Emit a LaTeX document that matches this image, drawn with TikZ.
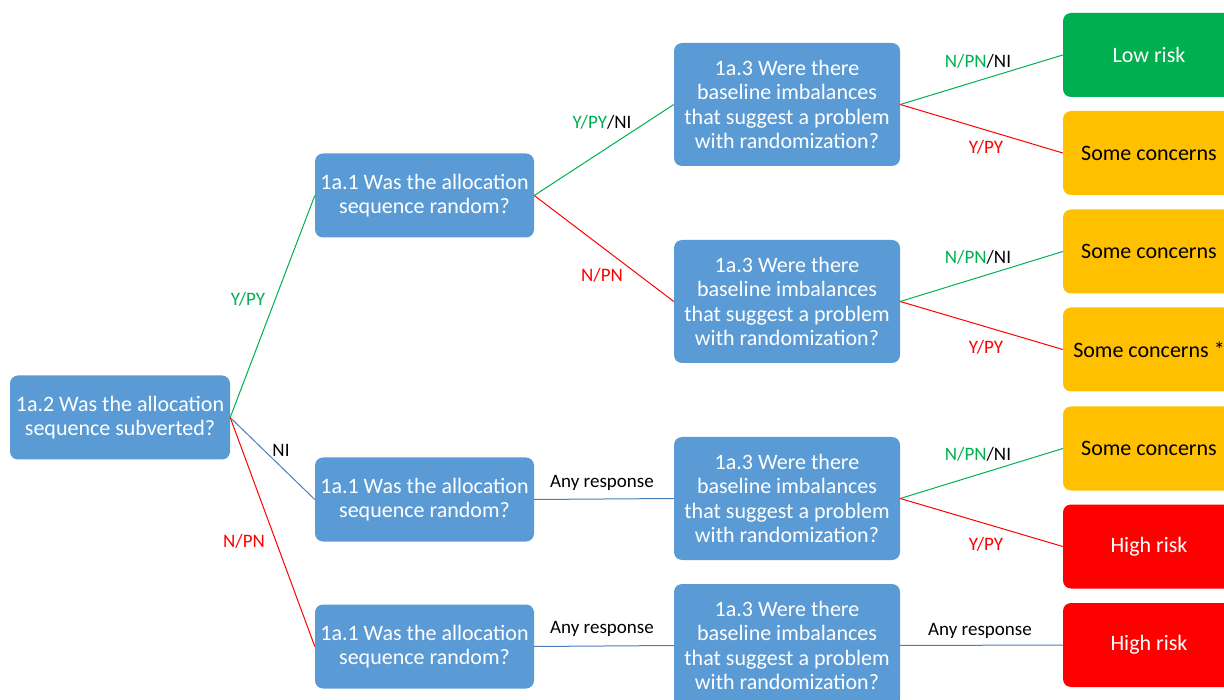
\documentclass[tikz,border=0pt]{standalone}
\usepackage{fontspec}
\setmainfont{Carlito}
\definecolor{boxblue}{HTML}{5B9BD5}
\definecolor{okgreen}{HTML}{00B050}
\definecolor{amber}{HTML}{FFC000}
\definecolor{hired}{HTML}{FF0000}
\definecolor{linkblue}{HTML}{4A7EBB}
\begin{document}
\begin{tikzpicture}[x=1pt,y=-1pt,
  qbox/.style={fill=boxblue, rounded corners=8pt, text=white, align=center,
    font=\fontsize{22}{24.3}\selectfont, inner sep=0pt},
  rbox/.style={rounded corners=8pt, align=center, minimum width=172pt,
    minimum height=84pt, font=\fontsize{22}{24.3}\selectfont, inner sep=0pt},
  lab/.style={font=\fontsize{19}{22}\selectfont, inner sep=0pt, yshift=-1.5pt},
  gline/.style={okgreen, line width=1pt},
  rline/.style={hired, line width=1pt},
  bline/.style={linkblue, line width=1pt}]
\useasboundingbox (0,0) rectangle (1224,700);

% question boxes
\node[qbox, minimum width=220pt, minimum height=84pt] (root) at (120,417.5)
  {1a.2 Was the allocation\\sequence subverted?};
\node[qbox, minimum width=219pt, minimum height=84pt] (a1) at (424.5,195.5)
  {1a.1 Was the allocation\\sequence random?};
\node[qbox, minimum width=219pt, minimum height=84pt] (a2) at (424.5,499.5)
  {1a.1 Was the allocation\\sequence random?};
\node[qbox, minimum width=219pt, minimum height=84pt] (a3) at (424.5,646.5)
  {1a.1 Was the allocation\\sequence random?};

\node[qbox, minimum width=226pt, minimum height=123pt] (b1) at (787,104.5)
  {1a.3 Were there\\baseline imbalances\\that suggest a problem\\with randomization?};
\node[qbox, minimum width=226pt, minimum height=123pt] (b2) at (787,301.5)
  {1a.3 Were there\\baseline imbalances\\that suggest a problem\\with randomization?};
\node[qbox, minimum width=226pt, minimum height=123pt] (b3) at (787,498.5)
  {1a.3 Were there\\baseline imbalances\\that suggest a problem\\with randomization?};
\node[qbox, minimum width=226pt, minimum height=123pt] (b4) at (787,645.5)
  {1a.3 Were there\\baseline imbalances\\that suggest a problem\\with randomization?};

% judgement boxes
\node[rbox, fill=okgreen, text=white] (r1) at (1149,55) {Low risk};
\node[rbox, fill=amber, text=black] (r2) at (1149,153) {Some concerns};
\node[rbox, fill=amber, text=black] (r3) at (1149,251.5) {Some concerns};
\node[rbox, fill=amber, text=black] (r4) at (1149,349.5) {Some concerns *};
\node[rbox, fill=amber, text=black] (r5) at (1149,448.5) {Some concerns};
\node[rbox, fill=hired, text=white] (r6) at (1149,546.5) {High risk};
\node[rbox, fill=hired, text=white] (r7) at (1149,645) {High risk};

% connectors from 1a.2
\draw[gline] (root.east) -- (a1.west);
\draw[bline] (root.east) -- (a2.west);
\draw[rline] (root.east) -- (a3.west);
\node[lab, text=okgreen] (l1) at (248,298) {Y/PY};
\node[lab, text=black] (l2) at (281,449) {NI};
\node[lab, text=hired] (l3) at (244,540) {N/PN};

% connectors from 1a.1
\draw[gline] (a1.east) -- (b1.west);
\draw[rline] (a1.east) -- (b2.west);
\draw[bline] (a2.east) -- (b3.west);
\draw[bline] (a3.east) -- (b4.west);
\node[lab] (l4) at (602,121) {\textcolor{okgreen}{Y/PY}/NI};
\node[lab, text=hired] (l5) at (602,274) {N/PN};
\node[lab] (l6) at (602,481) {Any response};
\node[lab] (l7) at (602,627) {Any response};

% connectors from 1a.3
\draw[gline] (b1.east) -- (r1.west);
\draw[rline] (b1.east) -- (r2.west);
\draw[gline] (b2.east) -- (r3.west);
\draw[rline] (b2.east) -- (r4.west);
\draw[gline] (b3.east) -- (r5.west);
\draw[rline] (b3.east) -- (r6.west);
\draw[bline] (b4.east) -- (r7.west);
\node[lab] (l8) at (978,60) {\textcolor{okgreen}{N/PN}/NI};
\node[lab, text=hired] (l9) at (986,146) {Y/PY};
\node[lab] (l10) at (978,256) {\textcolor{okgreen}{N/PN}/NI};
\node[lab, text=hired] (l11) at (986,346) {Y/PY};
\node[lab] (l12) at (978,453) {\textcolor{okgreen}{N/PN}/NI};
\node[lab, text=hired] (l13) at (986,543) {Y/PY};
\node[lab] (l14) at (980,629) {Any response};
\end{tikzpicture}
\end{document}
